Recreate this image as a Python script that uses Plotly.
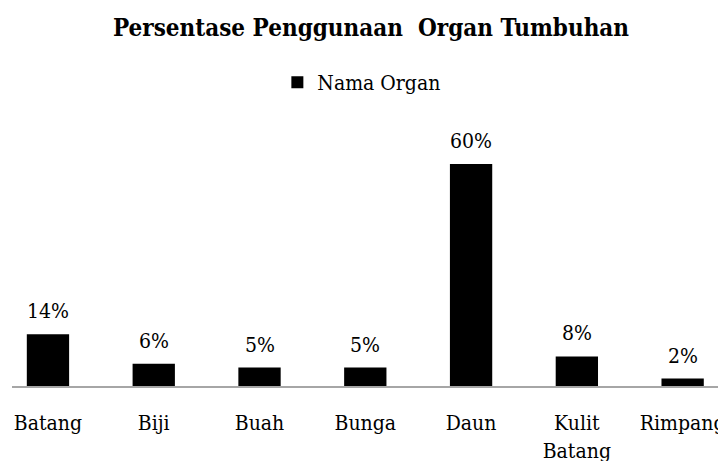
import plotly.graph_objects as go

categories = ["Batang", "Biji", "Buah", "Bunga", "Daun", "Kulit<br>Batang", "Rimpang"]
values = [14, 6, 5, 5, 60, 8, 2]
labels = ["14%", "6%", "5%", "5%", "60%", "8%", "2%"]
series_name = "Nama Organ"
title_text = "Persentase Penggunaan\u00a0 Organ Tumbuhan"

FONT = "DejaVu Serif Condensed"

fig = go.Figure()
fig.add_trace(go.Bar(
    x=list(range(len(categories))),
    y=values,
    name=series_name,
    marker=dict(color="#000000", line=dict(width=0)),
    width=0.4,
    showlegend=True,
))

for i, (v, t) in enumerate(zip(values, labels)):
    fig.add_annotation(
        x=i, y=v, text=t, showarrow=False,
        xref="x", yref="y", yanchor="bottom", yshift=9,
        font=dict(family=FONT, size=21, color="#000000"),
    )

fig.update_layout(
    width=726, height=461,
    paper_bgcolor="white", plot_bgcolor="white",
    margin=dict(l=4, r=8, t=102, b=83, autoexpand=False),
    title=dict(
        text="<b>" + title_text + "</b>",
        x=0.5, xref="container", xanchor="center",
        y=1 - 20 / 461, yref="container", yanchor="middle",
        font=dict(family=FONT, size=24, color="#000000"),
    ),
    legend=dict(
        orientation="h",
        x=0.49, xanchor="center",
        y=1 - 54 / 461, yref="container", yanchor="top",
        font=dict(family=FONT, size=21, color="#000000"),
        itemwidth=30,
        bgcolor="rgba(0,0,0,0)",
    ),
    xaxis=dict(
        range=[-0.34, 6.41],
        tickmode="array",
        tickvals=list(range(len(categories))),
        ticktext=categories,
        showgrid=False, zeroline=False,
        showline=True, linecolor="#A6A6A6", linewidth=2,
        ticks="", ticklabelstandoff=17,
        ticklabeloverflow="allow",
        automargin=False,
        tickfont=dict(family=FONT, size=21, color="#000000"),
        fixedrange=True,
    ),
    yaxis=dict(
        range=[0, 74.6],
        visible=False,
        showgrid=False, zeroline=False,
        automargin=False,
    ),
    bargap=0.6,
)

fig.write_html("out.html")
